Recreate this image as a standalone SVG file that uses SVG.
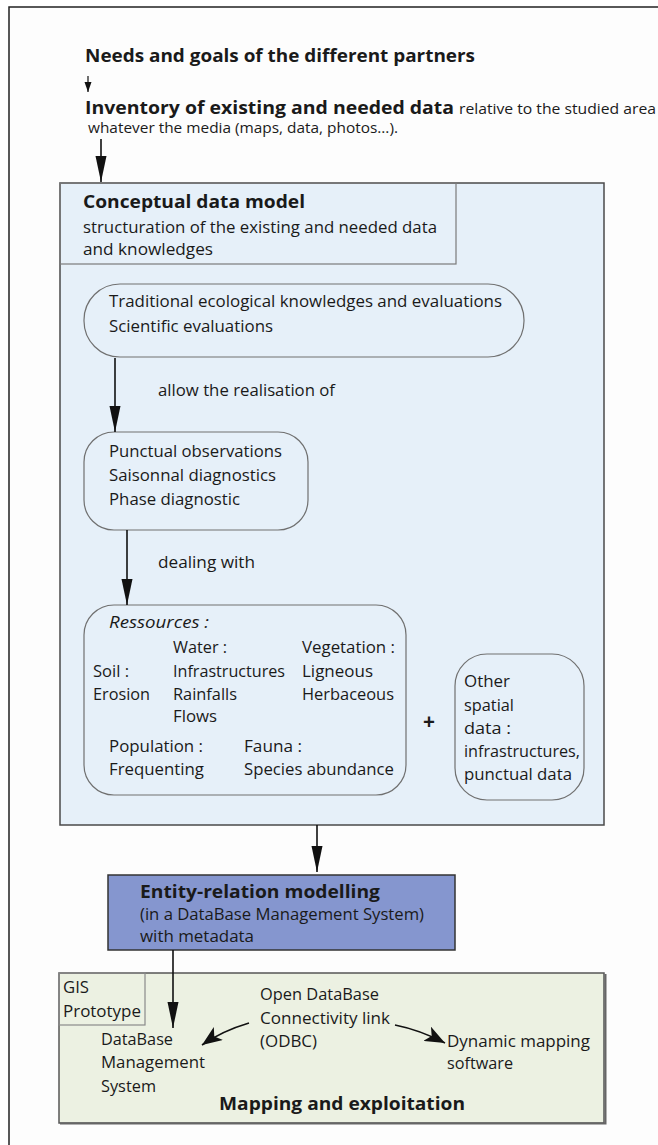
<svg xmlns="http://www.w3.org/2000/svg" width="658" height="1145" viewBox="0 0 658 1145">
<style>
text{font-family:"Open Sans","Noto Sans",sans-serif;fill:#1a1a1a;font-size:16px}
.b{font-weight:bold}
.t{font-size:18px;font-weight:bold}
.it{font-style:italic}
.rb{fill:none;stroke:#707070;stroke-width:1.2}
.ln{stroke:#111;stroke-width:1.6;fill:none}
</style>
<defs>
<marker id="ah" viewBox="0 0 26 12" refX="26" refY="6" markerWidth="26" markerHeight="12" markerUnits="userSpaceOnUse" orient="auto">
<path d="M0,0.5 L26,6 L0,11.5 z" fill="#111"/>
</marker>
<marker id="ahs" viewBox="0 0 10 8" refX="10" refY="4" markerWidth="10" markerHeight="8" markerUnits="userSpaceOnUse" orient="auto">
<path d="M0,0.5 L10,4 L0,7.5 z" fill="#111"/>
</marker>
<marker id="ahw" viewBox="0 0 20 16" refX="20" refY="8" markerWidth="20" markerHeight="16" markerUnits="userSpaceOnUse" orient="auto">
<path d="M0,0 L20,8 L0,16 L5,8 z" fill="#111"/>
</marker>
</defs>
<rect x="9" y="7" width="660" height="1150" fill="#fdfdfd" stroke="#222" stroke-width="1.5"/>

<g id="needs">
<text class="t" x="85" y="62" textLength="390" lengthAdjust="spacingAndGlyphs">Needs and goals of the different partners</text>
</g>
<g id="inventory">
<text class="t" x="85" y="114" textLength="369" lengthAdjust="spacingAndGlyphs">Inventory of existing and needed data</text>
<text x="459" y="114" style="font-size:14.5px" textLength="197" lengthAdjust="spacingAndGlyphs">relative to the studied area</text>
<text x="88" y="133" style="font-size:14.5px" textLength="310" lengthAdjust="spacingAndGlyphs">whatever the media (maps, data, photos...).</text>
</g>

<g id="conceptual">
<rect x="60" y="183" width="544" height="642" fill="#e6f0f9" stroke="#4a4a4a" stroke-width="1.5"/>
<rect x="60" y="183" width="396" height="81" fill="none" stroke="#7a7a7a" stroke-width="1.2"/>
<text class="b" x="83" y="208" style="font-size:17px" textLength="222" lengthAdjust="spacingAndGlyphs">Conceptual data model</text>
<text x="83" y="233" textLength="354" lengthAdjust="spacingAndGlyphs">structuration of the existing and needed data</text>
<text x="83" y="255" textLength="130" lengthAdjust="spacingAndGlyphs">and knowledges</text>
</g>

<g id="traditional">
<rect class="rb" x="84" y="284" width="440" height="73" rx="36" ry="36"/>
<text x="109" y="307" textLength="393" lengthAdjust="spacingAndGlyphs">Traditional ecological knowledges and evaluations</text>
<text x="109" y="332" textLength="164" lengthAdjust="spacingAndGlyphs">Scientific evaluations</text>
</g>

<g id="punctual">
<rect class="rb" x="84" y="432" width="224" height="98" rx="30" ry="30"/>
<text x="109" y="457" textLength="173" lengthAdjust="spacingAndGlyphs">Punctual observations</text>
<text x="109" y="481" textLength="167" lengthAdjust="spacingAndGlyphs">Saisonnal diagnostics</text>
<text x="109" y="505" textLength="131" lengthAdjust="spacingAndGlyphs">Phase diagnostic</text>
</g>

<g id="ressources">
<rect class="rb" x="84" y="605" width="322" height="190" rx="30" ry="30"/>
<text class="it" x="109" y="628" textLength="100" lengthAdjust="spacingAndGlyphs">Ressources :</text>
<text x="173" y="653" textLength="54" lengthAdjust="spacingAndGlyphs">Water :</text>
<text x="302" y="653" textLength="93" lengthAdjust="spacingAndGlyphs">Vegetation :</text>
<text x="93" y="677" textLength="36" lengthAdjust="spacingAndGlyphs">Soil :</text>
<text x="173" y="677" textLength="112" lengthAdjust="spacingAndGlyphs">Infrastructures</text>
<text x="302" y="677" textLength="71" lengthAdjust="spacingAndGlyphs">Ligneous</text>
<text x="93" y="700" textLength="57" lengthAdjust="spacingAndGlyphs">Erosion</text>
<text x="173" y="700" textLength="64" lengthAdjust="spacingAndGlyphs">Rainfalls</text>
<text x="302" y="700" textLength="92" lengthAdjust="spacingAndGlyphs">Herbaceous</text>
<text x="173" y="722" textLength="44" lengthAdjust="spacingAndGlyphs">Flows</text>
<text x="109" y="752" textLength="94" lengthAdjust="spacingAndGlyphs">Population :</text>
<text x="244" y="752" textLength="58" lengthAdjust="spacingAndGlyphs">Fauna  :</text>
<text x="109" y="775" textLength="95" lengthAdjust="spacingAndGlyphs">Frequenting</text>
<text x="244" y="775" textLength="150" lengthAdjust="spacingAndGlyphs">Species abundance</text>
</g>

<g id="plus">
<text class="b" x="429" y="729" text-anchor="middle" style="font-size:21px">+</text>
</g>

<g id="other">
<rect class="rb" x="455" y="654" width="129" height="146" rx="32" ry="32"/>
<text x="464" y="687" textLength="46" lengthAdjust="spacingAndGlyphs">Other</text>
<text x="464" y="711" textLength="50" lengthAdjust="spacingAndGlyphs">spatial</text>
<text x="464" y="734" textLength="47" lengthAdjust="spacingAndGlyphs">data  :</text>
<text x="464" y="757" textLength="116" lengthAdjust="spacingAndGlyphs">infrastructures,</text>
<text x="464" y="780" textLength="108" lengthAdjust="spacingAndGlyphs">punctual data</text>
</g>

<g id="entity">
<rect x="108" y="875" width="347" height="75" fill="#8596cf" stroke="#333" stroke-width="1.5"/>
<text class="b" x="140" y="898" style="font-size:18px" textLength="240" lengthAdjust="spacingAndGlyphs">Entity-relation modelling</text>
<text x="140" y="920" textLength="284" lengthAdjust="spacingAndGlyphs">(in a DataBase Management System)</text>
<text x="140" y="942" textLength="114" lengthAdjust="spacingAndGlyphs">with metadata</text>
</g>

<g id="gis">
<rect x="59" y="973" width="545" height="150" fill="#ecf1e2" stroke="#555" stroke-width="1.5"/>
<path d="M60,1123.5 H605.5 V974" fill="none" stroke="#666" stroke-width="2"/>
<rect x="59" y="973" width="86" height="52" fill="none" stroke="#8a8a8a" stroke-width="1.2"/>
<text x="63" y="993" textLength="26" lengthAdjust="spacingAndGlyphs">GIS</text>
<text x="63" y="1017" textLength="78" lengthAdjust="spacingAndGlyphs">Prototype</text>
<text x="101" y="1045" textLength="72" lengthAdjust="spacingAndGlyphs">DataBase</text>
<text x="101" y="1068" textLength="104" lengthAdjust="spacingAndGlyphs">Management</text>
<text x="101" y="1092" textLength="55" lengthAdjust="spacingAndGlyphs">System</text>
<text x="260" y="1000" textLength="119" lengthAdjust="spacingAndGlyphs">Open DataBase</text>
<text x="260" y="1024" textLength="130" lengthAdjust="spacingAndGlyphs">Connectivity link</text>
<text x="260" y="1047" textLength="57" lengthAdjust="spacingAndGlyphs">(ODBC)</text>
<text x="447" y="1047" textLength="143" lengthAdjust="spacingAndGlyphs">Dynamic mapping</text>
<text x="447" y="1069" textLength="66" lengthAdjust="spacingAndGlyphs">software</text>
<text class="b" x="219" y="1110" style="font-size:17px" textLength="246" lengthAdjust="spacingAndGlyphs">Mapping and exploitation</text>
</g>

<g id="connectors">
<line class="ln" x1="88" y1="76" x2="88" y2="92" style="stroke-width:1.2" marker-end="url(#ahs)"/>
<line class="ln" x1="101" y1="139" x2="101" y2="182" marker-end="url(#ah)"/>
<text x="158" y="396" textLength="177" lengthAdjust="spacingAndGlyphs">allow the realisation of</text>
<line class="ln" x1="115" y1="358" x2="115" y2="432" marker-end="url(#ah)"/>
<text x="158" y="568" textLength="97" lengthAdjust="spacingAndGlyphs">dealing with</text>
<line class="ln" x1="127" y1="530" x2="127" y2="605" marker-end="url(#ah)"/>
<line class="ln" x1="317" y1="825" x2="317" y2="872" marker-end="url(#ah)"/>
<line class="ln" x1="173" y1="950" x2="173" y2="1028" marker-end="url(#ah)"/>
<path class="ln" d="M249,1023 Q222,1031 202,1045" marker-end="url(#ahw)"/>
<path class="ln" d="M395,1025 Q420,1030 445,1043" marker-end="url(#ahw)"/>
</g>
</svg>
